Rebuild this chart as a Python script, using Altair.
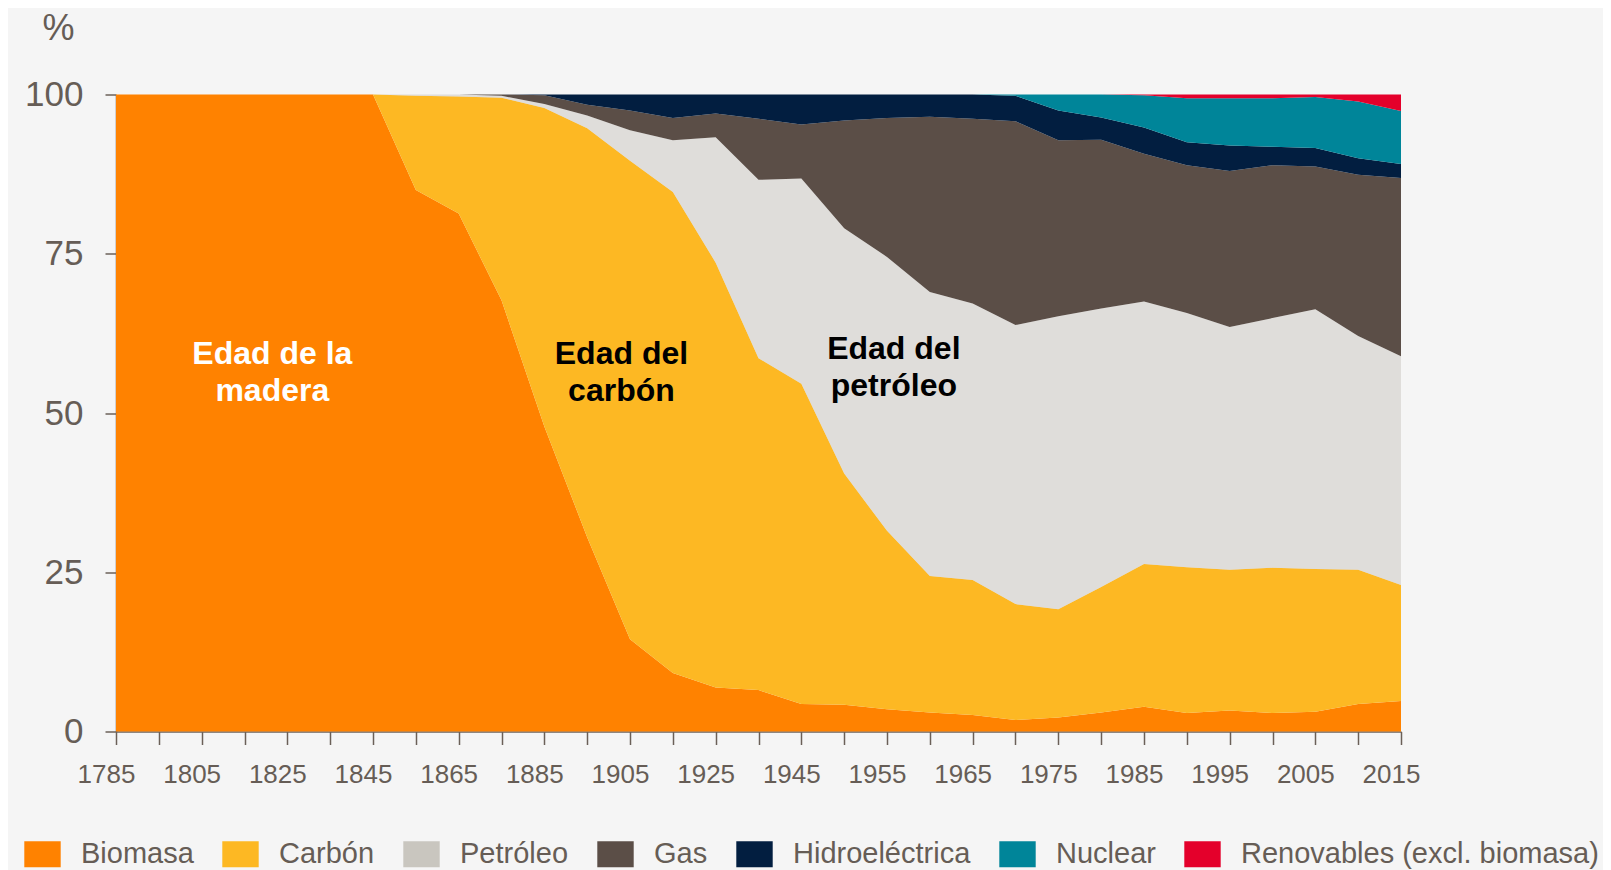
import altair as alt
import pandas as pd

years = [1785, 1795, 1805, 1815, 1825, 1835, 1845, 1855, 1865, 1875, 1885, 1895, 1905,
         1915, 1925, 1935, 1945, 1950, 1955, 1960, 1965, 1970, 1975, 1980, 1985, 1990,
         1995, 2000, 2005, 2010, 2015]

fuentes = ["Biomasa", "Carbón", "Petróleo", "Gas", "Hidroeléctrica", "Nuclear",
           "Renovables (excl. biomasa)"]
colores = ["#FF8200", "#FDB823", "#C9C6BF", "#5B4E47", "#021E40", "#008599", "#E4002B"]

biomasa = [100, 100, 100, 100, 100, 100, 100, 85.0, 81.3, 67.7, 47.9, 30.5, 14.5, 9.2, 6.9,
           6.5, 4.3, 4.2, 3.5, 3.0, 2.6, 1.8, 2.2, 3.0, 3.9, 2.9, 3.3, 2.9, 3.1, 4.3, 4.8]
carbon = [0, 0, 0, 0, 0, 0, 0, 14.8, 18.4, 31.8, 50.0, 64.2, 75.1, 75.5, 66.7, 52.1, 50.3,
          36.3, 28.0, 21.4, 21.2, 18.2, 17.0, 19.7, 22.4, 22.9, 22.1, 22.8, 22.4, 21.1, 18.2]
petroleo = [0, 0, 0, 0, 0, 0, 0, 0.2, 0.3, 0.3, 0.6, 2.0, 4.8, 8.1, 19.7, 28.0, 32.2, 38.5,
            43.0, 44.6, 43.4, 43.8, 46.0, 43.7, 41.2, 39.9, 38.1, 39.2, 40.8, 36.7, 35.9]
gas = [0, 0, 0, 0, 0, 0, 0, 0, 0, 0.2, 1.4, 1.7, 3.1, 3.5, 3.7, 9.6, 8.5, 16.9, 21.8, 27.5,
       29.0, 32.0, 27.6, 26.5, 23.2, 23.2, 24.5, 24.0, 22.4, 25.3, 28.0]
hidro = [0, 0, 0, 0, 0, 0, 0, 0, 0, 0, 0.1, 1.6, 2.5, 3.7, 3.0, 3.8, 4.7, 4.1, 3.7, 3.5, 3.8,
         4.0, 4.7, 3.5, 4.1, 3.6, 4.0, 2.9, 2.9, 2.6, 2.2]
nuclear = [0] * 21 + [0.2, 2.5, 3.6, 5.1, 6.9, 7.4, 7.6, 8.0, 8.9, 8.3]
renovables = [0] * 24 + [0.1, 0.6, 0.6, 0.6, 0.4, 1.1, 2.6]

series = [biomasa, carbon, petroleo, gas, hidro, nuclear, renovables]

rows = []
for k, (name, vals) in enumerate(zip(fuentes, series)):
    for i, v in enumerate(vals):
        rows.append({"idx": i, "anio": years[i], "fuente": name, "valor": v, "k": k})
df = pd.DataFrame(rows)

ann_text = ["Edad de la\nmadera", "Edad del\ncarbón", "Edad del\npetróleo"]
ann_idx = [3.65, 11.8, 18.16]
ann_val = [59.3, 59.3, 60.1]
ann = pd.DataFrame({"idx": ann_idx, "valor": ann_val, "t": ann_text})

FONT = "Liberation Sans"
AXC = "#6B6058"
TXC = "#665D56"

lab_js = "[" + ",".join("'%d'" % y for y in years) + "]"

x_enc = alt.X(
    "idx:Q",
    scale=alt.Scale(domain=[0, 30], nice=False, zero=False),
    axis=alt.Axis(
        values=list(range(31)),
        labelExpr="datum.value % 2 == 0 ? " + lab_js + "[datum.value] : ''",
        title=None, grid=False, tickSize=13, tickWidth=1.5, tickColor=AXC,
        domainColor=AXC, domainWidth=1.5, labelFontSize=26, labelFont=FONT,
        labelColor=TXC, labelPadding=17, labelOffset=-10, labelOverlap=False,
        labelFlush=False, labelBound=False,
    ),
)

y_enc = alt.Y(
    "valor:Q",
    stack="zero",
    scale=alt.Scale(domain=[0, 100], nice=False),
    axis=alt.Axis(
        values=[0, 25, 50, 75, 100], grid=False, tickSize=11, tickWidth=1.5,
        tickColor=AXC, domainColor=AXC, domainWidth=1.5, labelFontSize=35,
        labelFont=FONT, labelColor=TXC, labelPadding=22,
        title="%", titleAngle=0, titleX=-58, titleY=-66, titleAlign="center",
        titleBaseline="middle", titleFontSize=36, titleFontWeight="normal",
        titleFont=FONT, titleColor=TXC,
    ),
)

areas = alt.Chart(df).mark_area(interpolate="linear").encode(
    x=x_enc,
    y=y_enc,
    color=alt.Color(
        "fuente:N",
        scale=alt.Scale(domain=fuentes, range=colores),
        legend=alt.Legend(
            title=None, orient="none", legendX=-88, legendY=745,
            direction="horizontal", columns=7,
            symbolType="M-1.4,-1H1.4V1H-1.4Z", symbolSize=676,
            symbolStrokeWidth=0, symbolOpacity=1,
            labelFontSize=29, labelFont=FONT, labelColor=TXC,
            labelOffset=24, columnPadding=28, labelLimit=600, padding=0,
        ),
    ),
    order=alt.Order("k:Q", sort="ascending"),
    opacity=alt.condition("datum.fuente == 'Petróleo'", alt.value(0.5), alt.value(1)),
)

texts = alt.Chart(ann).mark_text(
    font=FONT, fontSize=32, fontWeight="bold", lineBreak="\n", lineHeight=37,
    align="center", baseline="middle",
).encode(
    x=alt.X("idx:Q"),
    y=alt.Y("valor:Q"),
    text="t:N",
    color=alt.condition("datum.idx < 5", alt.value("#FFFFFF"), alt.value("#000000")),
)

chart = alt.layer(areas, texts).properties(
    width=1285,
    height=637,
    autosize=alt.AutoSizeParams(type="none"),
    padding={"left": 108, "top": 86.5, "right": 202, "bottom": 138.5},
    background="#F5F5F5",
).configure_view(stroke=None)

chart.save("out.html", embed_options={"renderer": "svg", "actions": False})
